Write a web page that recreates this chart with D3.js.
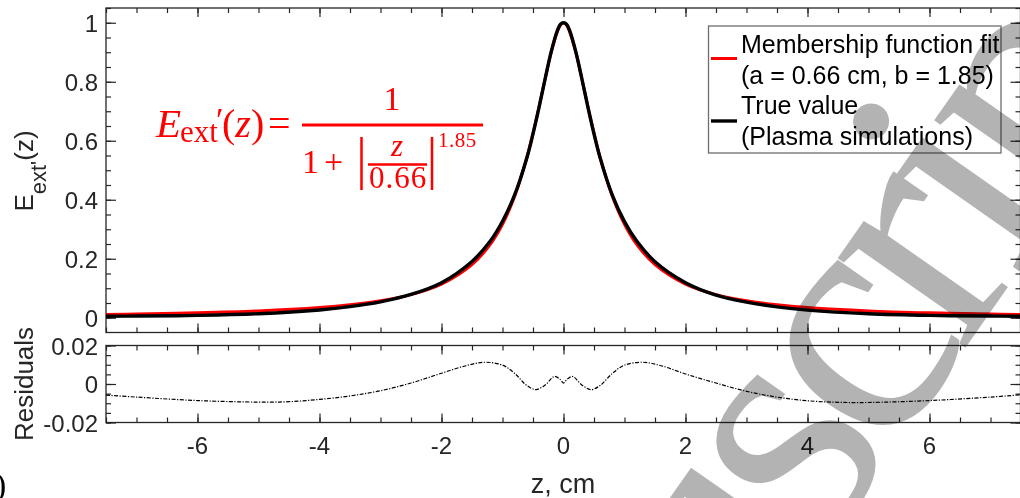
<!DOCTYPE html>
<html>
<head>
<meta charset="utf-8">
<script src="https://cdn.jsdelivr.net/npm/d3@7"></script>
<style>
  body { margin: 0; background: #fff; }
  svg { display: block; }
  text { font-family: "Liberation Sans", Arial, sans-serif; }
</style>
</head>
<body>
<div id="chart"></div>
<script>
// z positions (cm) of the plotted curves
var zVals = [-7.5, -7, -6, -5, -4, -3.5, -3, -2.5, -2, -1.5, -1.2, -1, -0.8, -0.6, -0.5, -0.4, -0.3, -0.2, -0.1, -0.05,
             0, 0.05, 0.1, 0.2, 0.3, 0.4, 0.5, 0.6, 0.8, 1, 1.2, 1.5, 2, 2.5, 3, 3.5, 4, 5, 6, 7, 7.5];
// red: membership function fit
var fitVals = [0.011, 0.0125, 0.0166, 0.0231, 0.0345, 0.0437, 0.0573, 0.0784, 0.114, 0.180, 0.249, 0.317, 0.412, 0.544, 0.626, 0.716, 0.811, 0.901, 0.970, 0.992,
               1.0, 0.992, 0.970, 0.901, 0.811, 0.716, 0.626, 0.544, 0.412, 0.317, 0.249, 0.180, 0.114, 0.0784, 0.0573, 0.0437, 0.0345, 0.0231, 0.0166, 0.0125, 0.011];
// black: plasma simulations
var trueVals = [0.0052, 0.0057, 0.008, 0.0137, 0.0265, 0.0377, 0.054, 0.079, 0.119, 0.191, 0.260, 0.327, 0.417, 0.5425, 0.623, 0.714, 0.811, 0.903, 0.974, 0.995,
                1.0, 0.995, 0.974, 0.903, 0.811, 0.714, 0.623, 0.542, 0.416, 0.326, 0.260, 0.190, 0.119, 0.077, 0.053, 0.037, 0.026, 0.0137, 0.008, 0.0057, 0.005];

// residuals panel
var resZ = [-7.5, -7, -6, -5, -4.5, -4, -3.5, -3, -2.5, -2, -1.6, -1.3, -1.0, -0.8, -0.6, -0.45, -0.3, -0.15, -0.06, 0,
            0.06, 0.15, 0.3, 0.45, 0.6, 0.8, 1.0, 1.3, 1.6, 2, 2.5, 3, 3.5, 4, 4.5, 5, 6, 7, 7.5];
var resVals = [-0.0058, -0.0068, -0.0086, -0.0094, -0.0092, -0.008, -0.0062, -0.0035, 0.0005, 0.0056, 0.0095, 0.0113, 0.0098, 0.0055, -0.0008, -0.0029, -0.0005, 0.0039, 0.0025, 0.0005,
               0.0025, 0.0039, -0.0005, -0.0029, -0.0008, 0.0055, 0.0098, 0.0113, 0.0095, 0.0052, 0.0005, -0.0038, -0.0068, -0.0087, -0.0095, -0.0096, -0.0086, -0.0068, -0.0056];

var xTicks = [-6, -4, -2, 0, 2, 4, 6];
var yTicks = [0, 0.2, 0.4, 0.6, 0.8, 1];
var resTicks = [-0.02, 0, 0.02];
var legendLines = ["Membership function fit", "(a = 0.66 cm, b = 1.85)", "True value", "(Plasma simulations)"];

var W = 1020, H = 498;
var axisColor = "#262626";

var svg = d3.select("#chart").append("svg")
    .attr("width", W)
    .attr("height", H);

var x = d3.scaleLinear().domain([-7.5, 7.5]).range([106, 1021]);
var y = d3.scaleLinear().domain([-0.05, 1.05]).range([332.5, 8]);
var yR = d3.scaleLinear().domain([-0.02, 0.02]).range([422.5, 345.5]);

var xMinor = d3.range(-7.5, 7.51, 0.5);
var yMinor = d3.range(0, 1.051, 0.05);
var rMinor = d3.range(-0.02, 0.0201, 0.005);

svg.append("clipPath").attr("id", "clipMain")
    .append("rect").attr("x", 106).attr("y", 8).attr("width", 915).attr("height", 324.5);
svg.append("clipPath").attr("id", "clipRes")
    .append("rect").attr("x", 106).attr("y", 345.5).attr("width", 915).attr("height", 77);

// draw ticks with d3 axes, tick marks pointing inwards
function ticks(g, axis, vals, size) {
    g.call(axis.tickValues(vals).tickSize(size).tickSizeOuter(0).tickFormat(""));
    g.select(".domain").remove();
    g.selectAll("line").attr("stroke", axisColor).attr("stroke-width", 1.2);
}

function panelTicks(yScale, top, bottom, yMaj, yMin) {
    ticks(svg.append("g").attr("transform", "translate(0," + bottom + ")"), d3.axisBottom(x), xMinor, -5);
    ticks(svg.append("g").attr("transform", "translate(0," + bottom + ")"), d3.axisBottom(x), xTicks, -9);
    ticks(svg.append("g").attr("transform", "translate(0," + top + ")"), d3.axisTop(x), xMinor, -5);
    ticks(svg.append("g").attr("transform", "translate(0," + top + ")"), d3.axisTop(x), xTicks, -9);
    ticks(svg.append("g").attr("transform", "translate(106,0)"), d3.axisLeft(yScale), yMin, -5);
    ticks(svg.append("g").attr("transform", "translate(106,0)"), d3.axisLeft(yScale), yMaj, -10);
    ticks(svg.append("g").attr("transform", "translate(1020.5,0)"), d3.axisRight(yScale), yMin, -5);
    ticks(svg.append("g").attr("transform", "translate(1020.5,0)"), d3.axisRight(yScale), yMaj, -10);
    svg.append("rect")
        .attr("x", 106).attr("y", top)
        .attr("width", 914.5).attr("height", bottom - top)
        .attr("fill", "none").attr("stroke", axisColor).attr("stroke-width", 1.3);
}

panelTicks(y, 8, 332.5, yTicks, yMinor);
panelTicks(yR, 345.5, 422.5, resTicks, rMinor);

// main curves
var line = d3.line()
    .x(function(d){ return x(d[0]); })
    .y(function(d){ return y(d[1]); })
    .curve(d3.curveCatmullRom.alpha(0.5));

svg.append("path")
    .attr("clip-path", "url(#clipMain)")
    .attr("d", line(d3.zip(zVals, fitVals)))
    .attr("fill", "none").attr("stroke", "#ff0000").attr("stroke-width", 3);

svg.append("path")
    .attr("clip-path", "url(#clipMain)")
    .attr("d", line(d3.zip(zVals, trueVals)))
    .attr("fill", "none").attr("stroke", "#000").attr("stroke-width", 3.4);

// residuals
var resLine = d3.line()
    .x(function(d){ return x(d[0]); })
    .y(function(d){ return yR(d[1]); })
    .curve(d3.curveCatmullRom.alpha(0.5));

svg.append("path")
    .attr("clip-path", "url(#clipRes)")
    .attr("d", resLine(d3.zip(resZ, resVals)))
    .attr("fill", "none").attr("stroke", "#000").attr("stroke-width", 1.2)
    .attr("stroke-dasharray", "4,1.5,1.2,1.5");

// tick labels
svg.selectAll(".ylab")
    .data(yTicks)
    .enter()
    .append("text")
    .attr("x", 98)
    .attr("y", function(d){ return y(d) + 9; })
    .attr("text-anchor", "end")
    .attr("font-size", "24px")
    .attr("fill", axisColor)
    .text(function(d){ return d3.format("~g")(d); });

svg.selectAll(".rlab")
    .data(resTicks)
    .enter()
    .append("text")
    .attr("x", 98)
    .attr("y", function(d){ return yR(d) + 9; })
    .attr("text-anchor", "end")
    .attr("font-size", "24px")
    .attr("fill", axisColor)
    .text(function(d){ return d === 0 ? "0" : String(d); });

svg.selectAll(".xlab")
    .data(xTicks)
    .enter()
    .append("text")
    .attr("x", function(d){ return x(d); })
    .attr("y", 454)
    .attr("text-anchor", "middle")
    .attr("font-size", "24px")
    .attr("fill", axisColor)
    .text(function(d){ return d < 0 ? "-" + Math.abs(d) : d; });

// axis labels
svg.append("text")
    .attr("x", 563).attr("y", 493)
    .attr("text-anchor", "middle")
    .attr("font-size", "27px")
    .attr("fill", axisColor)
    .text("z, cm");

var ylab = svg.append("text")
    .attr("transform", "translate(33,171) rotate(-90)")
    .attr("text-anchor", "middle")
    .attr("font-size", "26px")
    .attr("fill", axisColor);
ylab.append("tspan").text("E");
ylab.append("tspan").attr("dy", 13).attr("font-size", "22px").text("ext'");
ylab.append("tspan").attr("dy", -13).text("(z)");

svg.append("text")
    .attr("transform", "translate(33,384) rotate(-90)")
    .attr("text-anchor", "middle")
    .attr("font-size", "26px")
    .attr("fill", axisColor)
    .text("Residuals");

// formula
var red = "#ff0000";
var serif = "'Liberation Serif', serif";
var fm = svg.append("g").attr("fill", red);
function ftext(px, py, size, str, italic, anchor) {
    return fm.append("text")
        .attr("x", px).attr("y", py)
        .attr("font-size", size + "px")
        .attr("font-style", italic ? "italic" : "normal")
        .attr("text-anchor", anchor || "start")
        .style("font-family", serif)
        .text(str);
}
ftext(156, 137, 41, "E", true);
ftext(180, 142, 31, "ext");
ftext(216, 131, 34, "\u2032");
var fz = ftext(222, 137, 40, "");
fz.append("tspan").text("(");
fz.append("tspan").attr("font-style", "italic").text("z");
fz.append("tspan").text(")");
ftext(268, 137, 40, "=");
fm.append("line").attr("x1", 302).attr("x2", 483).attr("y1", 125).attr("y2", 125).attr("stroke", red).attr("stroke-width", 3);
ftext(392, 110, 34, "1", false, "middle");
ftext(302, 173, 34, "1");
ftext(324, 173, 34, "+");
fm.append("line").attr("x1", 361.5).attr("x2", 361.5).attr("y1", 137).attr("y2", 190).attr("stroke", red).attr("stroke-width", 2.5);
fm.append("line").attr("x1", 432).attr("x2", 432).attr("y1", 137).attr("y2", 190).attr("stroke", red).attr("stroke-width", 2.5);
ftext(397, 156, 31, "z", true, "middle");
fm.append("line").attr("x1", 368).attr("x2", 427).attr("y1", 164.5).attr("y2", 164.5).attr("stroke", red).attr("stroke-width", 2.3);
ftext(398, 188, 31, "0.66", false, "middle").style("letter-spacing", "1px");
ftext(438, 147, 21, "1.85").style("letter-spacing", "0.5px");

// legend
var leg = svg.append("g");
leg.append("rect")
    .attr("x", 708.5).attr("y", 26)
    .attr("width", 292.5).attr("height", 127)
    .attr("fill", "#fff").attr("stroke", "#6e6e6e").attr("stroke-width", 1.3);
leg.append("line").attr("x1", 711).attr("x2", 737).attr("y1", 58.5).attr("y2", 58.5)
    .attr("stroke", red).attr("stroke-width", 3);
leg.append("line").attr("x1", 711).attr("x2", 737).attr("y1", 121).attr("y2", 121)
    .attr("stroke", "#000").attr("stroke-width", 3.4);
leg.selectAll("text")
    .data(legendLines)
    .enter()
    .append("text")
    .attr("x", 741)
    .attr("y", function(d, i){ return 53 + i * 30.5; })
    .attr("font-size", "25px")
    .attr("fill", "#000")
    .text(function(d){ return d; });

// panel letter, cut at the left edge
svg.append("text")
    .attr("x", -5).attr("y", 496)
    .attr("font-size", "34px")
    .style("font-family", serif)
    .attr("fill", "#000")
    .text(")");

// watermark, placed so that its "s" is centred at the anchor point
var wm = svg.append("text")
    .attr("transform", "translate(792,463) rotate(-55)")
    .attr("x", 0).attr("y", 76)
    .attr("font-size", "340px")
    .attr("letter-spacing", "-20px")
    .style("font-family", serif)
    .style("mix-blend-mode", "multiply")
    .attr("fill", "#b3b3b3")
    .text("Manuscript");
var n = wm.node();
var sMid = (n.getStartPositionOfChar(4).x + n.getEndPositionOfChar(4).x) / 2;
wm.attr("x", -sMid);
</script>
</body>
</html>
